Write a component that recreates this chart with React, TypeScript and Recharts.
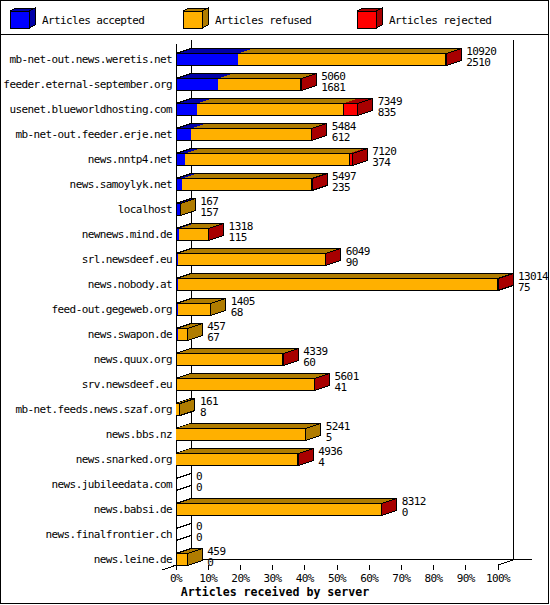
import { BarChart, Bar, XAxis, YAxis, LabelList } from 'recharts';

const hosts = [
  'mb-net-out.news.weretis.net',
  'feeder.eternal-september.org',
  'usenet.blueworldhosting.com',
  'mb-net-out.feeder.erje.net',
  'news.nntp4.net',
  'news.samoylyk.net',
  'localhost',
  'newnews.mind.de',
  'srl.newsdeef.eu',
  'news.nobody.at',
  'feed-out.gegeweb.org',
  'news.swapon.de',
  'news.quux.org',
  'srv.newsdeef.eu',
  'mb-net.feeds.news.szaf.org',
  'news.bbs.nz',
  'news.snarked.org',
  'news.jubileedata.com',
  'news.babsi.de',
  'news.finalfrontier.ch',
  'news.leine.de',
];
const offered = [10920, 5060, 7349, 5484, 7120, 5497, 167, 1318, 6049, 13014, 1405, 457, 4339, 5601, 161, 5241, 4936, 0, 8312, 0, 459];
const accepted = [2510, 1681, 835, 612, 374, 235, 157, 115, 90, 75, 68, 67, 60, 41, 8, 5, 4, 0, 0, 0, 0];
// estimated from the red front faces / red end caps
const rejected = [20, 15, 590, 15, 120, 15, 0, 15, 15, 40, 0, 0, 15, 15, 0, 0, 15, 0, 20, 0, 0];
const xTicks = [0, 10, 20, 30, 40, 50, 60, 70, 80, 90, 100];

const seriesNames = ['Articles accepted', 'Articles refused', 'Articles rejected'];
const seriesColors = ['#0000ff', '#ffb000', '#ff0000'];
const seriesDark = ['#0000a8', '#b07c00', '#a80000'];

const maxOffered = Math.max(...offered);
const rows = hosts.map((host, i) => ({
  host,
  offered: offered[i],
  acceptedCount: accepted[i],
  accepted: (accepted[i] / maxOffered) * 100,
  refused: ((offered[i] - accepted[i] - rejected[i]) / maxOffered) * 100,
  rejected: (rejected[i] / maxOffered) * 100,
}));

const W = 550;
const H = 605;
const LEFT = 176;
const RIGHT = 498;
const TOP = 46.5;
const BOTTOM = 571.5;
const FRONT_Y = 565;
const DX = 15;
const DY = 5;
const FONT = '"DejaVu Sans Mono", monospace';

const keys = ['accepted', 'refused', 'rejected'];

const makeShape = (k: number) => (p: any) => {
  const { x, y, width: w, height: h, payload } = p;
  if (!w || w <= 0) return <g />;
  const vals = keys.map((key) => payload[key]);
  const isFirst = vals.slice(0, k).every((v) => v <= 0);
  const isLast = vals.slice(k + 1).every((v) => v <= 0);
  const fill = seriesColors[k];
  const dark = seriesDark[k];
  return (
    <g shapeRendering="crispEdges">
      <rect x={x} y={y} width={w} height={h} fill={fill} />
      <polygon points={`${x},${y} ${x + DX},${y - DY} ${x + w + DX},${y - DY} ${x + w},${y}`} fill={dark} />
      <line x1={x} y1={y} x2={x + w} y2={y} stroke="#000" />
      <line x1={x} y1={y + h} x2={x + w} y2={y + h} stroke="#000" />
      <line x1={x + DX} y1={y - DY} x2={x + w + DX} y2={y - DY} stroke="#000" />
      {k === 2 && <rect x={x} y={y} width={w} height={h} fill="none" stroke="#000" />}
      {isFirst && <line x1={x} y1={y} x2={x + DX} y2={y - DY} stroke="#000" />}
      {isFirst && <line x1={x} y1={y} x2={x} y2={y + h} stroke="#000" />}
      {isLast && (
        <polygon
          points={`${x + w},${y} ${x + w + DX},${y - DY} ${x + w + DX},${y + h - DY} ${x + w},${y + h}`}
          fill={dark}
          stroke="#000"
        />
      )}
    </g>
  );
};

const EndLabel = (p: any) => {
  const vb = p.viewBox || p;
  const x = vb.x ?? p.x;
  const y = vb.y ?? p.y;
  const w = vb.width ?? p.width ?? 0;
  const h = vb.height ?? p.height ?? 12;
  const row = rows[p.index];
  if (!row) return null;
  const end = x + w;
  return (
    <g>
      {row.offered === 0 && (
        <g shapeRendering="crispEdges">
          <line x1={x} y1={y} x2={x + DX} y2={y - DY} stroke="#000" />
          <line x1={x} y1={y + h} x2={x + DX} y2={y + h - DY} stroke="#000" />
        </g>
      )}
      <text x={end + 20} y={y + 1} fontFamily={FONT} fontSize={11} letterSpacing={-0.6} fill="#000">
        {row.offered}
      </text>
      <text x={end + 20} y={y + 12} fontFamily={FONT} fontSize={11} letterSpacing={-0.6} fill="#000">
        {row.acceptedCount}
      </text>
    </g>
  );
};

const HostTick = (p: any) => (
  <text x={p.x} y={p.y} dy={4} textAnchor="end" fontFamily={FONT} fontSize={11} letterSpacing={-0.6} fill="#000">
    {p.payload.value}
  </text>
);

const PctTick = (p: any) => (
  <g>
    <line x1={p.x} y1={FRONT_Y} x2={p.x} y2={FRONT_Y + 5} stroke="#000" shapeRendering="crispEdges" />
    <text x={p.x} y={582} textAnchor="middle" fontFamily={FONT} fontSize={11} letterSpacing={-0.6} fill="#000">
      {`${p.payload.value}%`}
    </text>
  </g>
);

const legendX = [10, 183, 357];

const Backdrop = () => (
  <svg width={W} height={H} style={{ position: 'absolute', left: 0, top: 0 }}>
    <g shapeRendering="crispEdges">
      <rect x={0.5} y={0.5} width={548} height={603} fill="#fff" stroke="#000" />
      <line x1={0} y1={34.5} x2={549} y2={34.5} stroke="#000" />
      {seriesNames.map((name, i) => {
        const lx = legendX[i];
        return (
          <g key={name}>
            <polygon points={`${lx},11 ${lx + 6},8 ${lx + 25},8 ${lx + 19},11`} fill={seriesDark[i]} stroke="#000" />
            <polygon points={`${lx + 19},11 ${lx + 25},8 ${lx + 25},25 ${lx + 19},28`} fill={seriesDark[i]} stroke="#000" />
            <rect x={lx} y={11} width={19} height={17} fill={seriesColors[i]} stroke="#000" />
          </g>
        );
      })}
      <line x1={LEFT + 0.5} y1={44} x2={LEFT + 0.5} y2={FRONT_Y} stroke="#000" />
      <line x1={LEFT + DX + 0.5} y1={40} x2={LEFT + DX + 0.5} y2={FRONT_Y - DY} stroke="#000" />
      <line x1={RIGHT + DX + 0.5} y1={40} x2={RIGHT + DX + 0.5} y2={FRONT_Y - DY} stroke="#000" />
      <line x1={LEFT + DX} y1={FRONT_Y - DY - 0.5} x2={532} y2={FRONT_Y - DY - 0.5} stroke="#000" />
    </g>
    <line x1={162} y1={570} x2={LEFT + DX} y2={FRONT_Y - DY} stroke="#000" shapeRendering="crispEdges" />
    <line x1={RIGHT} y1={FRONT_Y} x2={RIGHT + DX} y2={FRONT_Y - DY} stroke="#000" shapeRendering="crispEdges" />
    {seriesNames.map((name, i) => (
      <text key={name} x={legendX[i] + 32} y={24} fontFamily={FONT} fontSize={11} letterSpacing={-0.6} fill="#000">
        {name}
      </text>
    ))}
    <text x={275} y={596} textAnchor="middle" fontFamily={FONT} fontSize={11.6} fontWeight="bold" fill="#000">
      Articles received by server
    </text>
  </svg>
);

export default function App() {
  return (
    <div style={{ position: 'relative', width: W, height: H }}>
      <style>{'body{margin:0}'}</style>
      <Backdrop />
      <div style={{ position: 'absolute', left: 0, top: 0 }}>
        <BarChart
          width={W}
          height={H}
          data={rows}
          layout="vertical"
          barSize={12}
          margin={{ top: TOP, right: W - RIGHT, bottom: 0, left: 0 }}
        >
          <XAxis
            type="number"
            domain={[0, 100]}
            ticks={xTicks}
            axisLine={false}
            tickLine={false}
            height={H - BOTTOM}
            tick={<PctTick />}
            interval={0}
          />
          <YAxis
            type="category"
            dataKey="host"
            width={LEFT}
            axisLine={false}
            tickLine={false}
            tickSize={0}
            tickMargin={4}
            interval={0}
            tick={<HostTick />}
          />
          <Bar dataKey="accepted" stackId="a" isAnimationActive={false} shape={makeShape(0)} />
          <Bar dataKey="refused" stackId="a" isAnimationActive={false} shape={makeShape(1)} />
          <Bar dataKey="rejected" stackId="a" isAnimationActive={false} shape={makeShape(2)}>
            <LabelList dataKey="rejected" content={<EndLabel />} />
          </Bar>
        </BarChart>
      </div>
    </div>
  );
}
